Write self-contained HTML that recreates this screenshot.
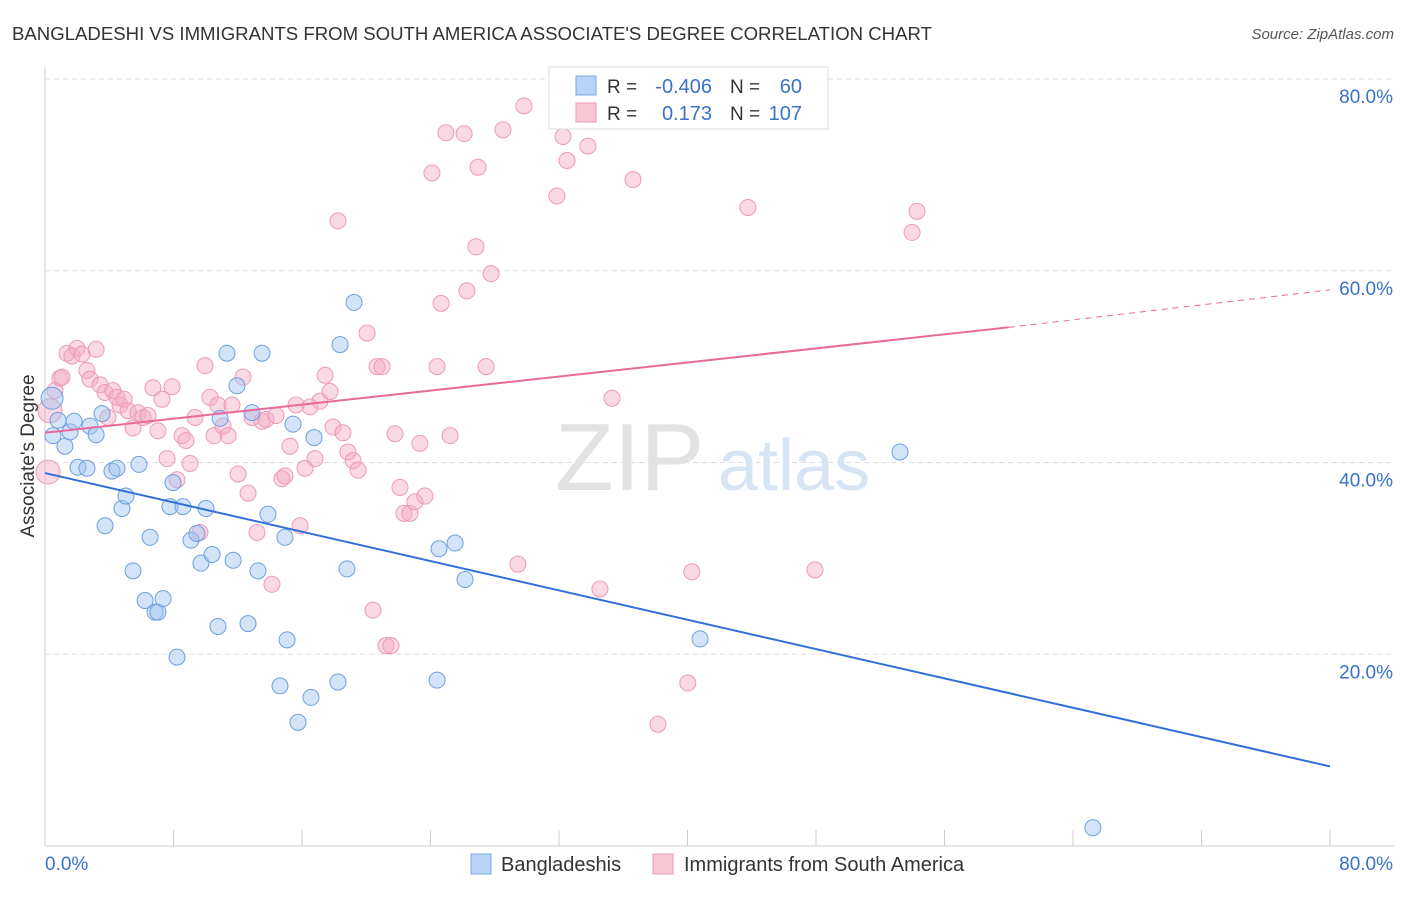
<!DOCTYPE html>
<html><head><meta charset="utf-8"><style>
body{margin:0;background:#fff;font-family:"Liberation Sans",sans-serif}
svg text{font-family:"Liberation Sans",sans-serif}
</style></head><body>
<svg id="chart" width="1406" height="892">
<text x="12" y="40" font-size="18.6" fill="#333">BANGLADESHI VS IMMIGRANTS FROM SOUTH AMERICA ASSOCIATE'S DEGREE CORRELATION CHART</text>
<text x="1394" y="39" font-size="15" fill="#555" font-style="italic" text-anchor="end">Source: ZipAtlas.com</text>
<text x="34" y="456" font-size="19" fill="#333" text-anchor="middle" transform="rotate(-90 34 456)">Associate's Degree</text>
<g id="grid"></g>
<text x="555" y="490" font-size="96" fill="#e2e2e2" font-family="Liberation Serif">ZIP</text>
<text x="718" y="490" font-size="72" fill="#d6e4f4">atlas</text>
<g id="pts"></g>
<g id="lines"></g>
<g>
<rect x="549" y="67" width="279" height="62" fill="#fff" stroke="#ddd"/>
<rect x="576" y="76" width="20" height="19" fill="#b8d3f5" stroke="#7aa8e0"/>
<rect x="576" y="103" width="20" height="19" fill="#f9c6d6" stroke="#ec9ab6"/>
<text x="607" y="93" font-size="19" fill="#333">R = </text><text x="712" y="93" font-size="20" fill="#3a72c8" text-anchor="end">-0.406</text>
<text x="730" y="93" font-size="19" fill="#333">N = </text><text x="802" y="93" font-size="20" fill="#3a72c8" text-anchor="end">60</text>
<text x="607" y="120" font-size="19" fill="#333">R = </text><text x="712" y="120" font-size="20" fill="#3a72c8" text-anchor="end">0.173</text>
<text x="730" y="120" font-size="19" fill="#333">N = </text><text x="802" y="120" font-size="20" fill="#3a72c8" text-anchor="end">107</text>
</g>
<g>
<rect x="471" y="854" width="20" height="20" fill="#b8d3f5" stroke="#7aa8e0"/>
<text x="501" y="871" font-size="20" fill="#333">Bangladeshis</text>
<rect x="653" y="854" width="20" height="20" fill="#f9c6d6" stroke="#ec9ab6"/>
<text x="684" y="871" font-size="20" fill="#333">Immigrants from South America</text>
</g>
</svg>
<script>
const xTicks=[0,80];
const yTicks=[20,40,60,80];
const blueX=[0.44,0.50,0.81,1.24,1.56,1.81,2.05,2.61,2.80,3.18,3.55,3.74,4.17,4.48,4.79,5.04,5.48,5.85,6.23,6.54,6.85,7.03,7.35,7.78,7.97,8.22,8.59,9.09,9.46,9.71,10.02,10.40,10.77,10.90,11.33,11.71,11.95,12.64,12.89,13.26,13.51,13.88,14.63,14.94,15.07,15.44,15.75,16.56,16.75,18.24,18.37,18.80,19.24,24.41,24.53,25.53,26.15,40.78,53.23,65.24];
const blueY=[46.7,42.8,44.4,41.7,43.2,44.3,39.5,39.4,43.8,42.9,45.1,33.4,39.1,39.4,35.2,36.5,28.7,39.8,25.6,32.2,24.4,24.4,25.8,35.4,37.9,19.7,35.4,31.9,32.6,29.5,35.2,30.4,22.9,44.6,51.4,29.8,48.0,23.2,45.2,28.7,51.4,34.6,16.7,32.2,21.5,44.0,12.9,15.5,42.6,17.1,52.3,28.9,56.7,17.3,31.0,31.6,27.8,21.6,41.1,1.9];
const pinkX=[0.19,0.31,0.62,0.93,1.06,1.37,1.68,1.99,2.30,2.61,2.80,3.18,3.43,3.74,3.92,4.23,4.48,4.67,4.92,5.17,5.48,5.79,6.10,6.41,6.72,7.03,7.28,7.60,7.91,8.22,8.53,8.78,9.03,9.34,9.65,9.96,10.27,10.52,10.77,11.08,11.40,11.64,12.02,12.33,12.64,12.89,13.20,13.51,13.76,14.13,14.38,14.75,14.94,15.25,15.63,15.88,16.19,16.50,16.81,17.12,17.44,17.74,17.93,18.24,18.55,18.86,19.18,19.49,20.05,20.42,20.67,20.98,21.23,21.54,21.79,22.10,22.35,22.72,23.03,23.34,23.65,24.09,24.41,24.66,24.96,25.22,26.09,26.27,26.83,26.96,27.46,27.77,28.51,29.44,29.82,31.87,32.25,32.50,33.80,34.55,35.30,36.61,38.16,40.02,40.27,43.76,47.94,53.98,54.29];
const pinkY=[39.0,45.4,47.5,48.8,48.9,51.4,51.1,51.9,51.3,49.6,48.7,51.8,48.1,47.3,44.7,47.5,46.8,46.0,46.6,45.4,43.6,45.2,44.7,44.9,47.8,43.3,46.6,40.4,47.9,38.2,42.8,42.3,39.9,44.7,32.7,50.1,46.8,42.8,46.0,43.8,42.8,46.0,38.8,48.9,36.8,44.7,32.7,44.3,44.5,27.3,44.9,38.3,38.6,41.7,46.0,33.4,39.4,45.8,40.4,46.4,49.1,47.4,43.7,65.2,43.1,41.1,40.2,39.2,53.5,24.6,50.0,50.0,20.9,20.9,43.0,37.4,34.7,34.7,35.9,42.0,36.5,70.2,50.0,56.6,74.4,42.8,74.3,57.9,62.5,70.8,50.0,59.7,74.7,29.4,77.2,67.8,74.0,71.5,73.0,26.8,46.7,69.5,12.7,17.0,28.6,66.6,28.8,64.0,66.2];
const X=v=>45+v/80*1285, Y=v=>846-v/80*767;
const NS='http://www.w3.org/2000/svg';
const svg=document.getElementById('chart');
function mk(t,a,p){const e=document.createElementNS(NS,t);for(const k in a)e.setAttribute(k,a[k]);(p||svg).appendChild(e);return e;}
const grid=document.getElementById('grid');
yTicks.forEach(t=>{
 const l=mk('line',{x1:45,x2:1394,y1:Y(t),y2:Y(t),stroke:'#ddd','stroke-dasharray':'5,4'},grid);
 
 
 const tx=mk('text',{x:1393,y:Y(t)+24,'font-size':19,fill:'#3a72c8','text-anchor':'end'});
 tx.textContent=t.toFixed(1)+'%';
 
 
});
const ax=mk('line',{x1:45,x2:45,y1:68,y2:846,stroke:'#ccc'},grid);


const bx=mk('line',{x1:45,x2:1394,y1:846,y2:846,stroke:'#ccc'},grid);


for(let i=0;i<=10;i++){
 const t=mk('line',{x1:X(i*8),x2:X(i*8),y1:830,y2:846,stroke:'#ccc'},grid);
 
 
}
xTicks.forEach((t,i)=>{
 const tx=mk('text',{x:i?1393:45,y:870,'font-size':19,fill:'#3a72c8','text-anchor':i?'end':'start'});
 tx.textContent=t.toFixed(1)+'%';
 
 
});
const pts=document.getElementById('pts');
pinkX.forEach((x,i)=>{
 const c=mk('circle',{cx:X(x),cy:Y(pinkY[i]),r:i<2?12:8,fill:'rgba(245,170,195,0.45)',stroke:'#ec9ab6','stroke-width':1},pts);
 
 
});
blueX.forEach((x,i)=>{
 const c=mk('circle',{cx:X(x),cy:Y(blueY[i]),r:i<1?11:8,fill:'rgba(160,195,240,0.45)',stroke:'#6c9fe0','stroke-width':1},pts);
 
 
});
const lines=document.getElementById('lines');
const bl=mk('line',{x1:X(0),y1:Y(38.9),x2:X(80),y2:Y(8.3),stroke:'#2f6fd6','stroke-width':2},lines);


const pl=mk('line',{x1:X(0),y1:Y(43.1),x2:X(60),y2:Y(54.1),stroke:'#e8699a','stroke-width':2},lines);


const pd=mk('line',{x1:X(60),y1:Y(54.1),x2:X(80),y2:Y(58.0),stroke:'#e8699a','stroke-width':1,'stroke-dasharray':'6,5'},lines);


</script>
</body></html>
